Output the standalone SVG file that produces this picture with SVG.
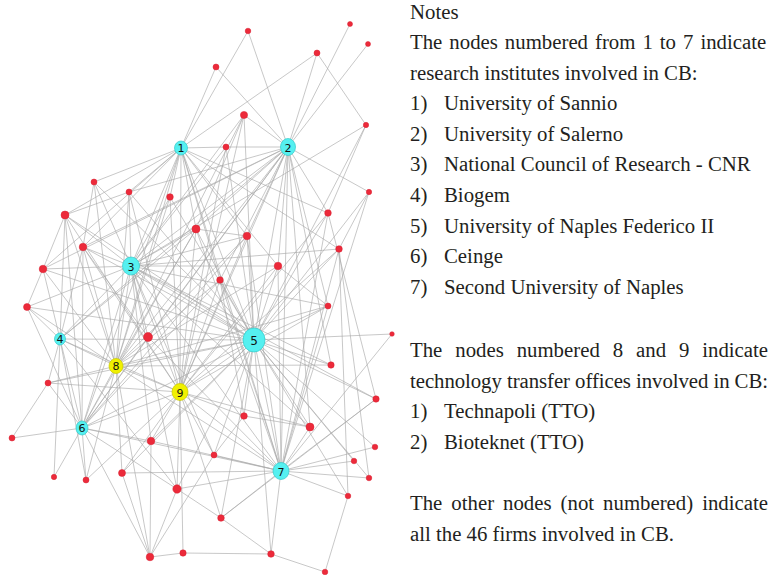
<svg xmlns="http://www.w3.org/2000/svg" width="779" height="575" viewBox="0 0 779 575">
<style>
.e line{stroke:#a9a9a9;stroke-width:0.75;stroke-opacity:0.85}
.f{fill:#ec2a3a;stroke:#d81f30;stroke-width:0.5}
.r{fill:#55f0f0;stroke:#34caca;stroke-width:0.7}
.t{fill:#f0f000;stroke:#c8c800;stroke-width:0.7}
.lb{font-family:"DejaVu Sans","Liberation Sans",sans-serif;font-size:11px;fill:#111;text-anchor:middle}
.tx{font-family:"Liberation Serif","Times New Roman",serif;font-size:20.8px;fill:#231f20}
</style>
<rect width="779" height="575" fill="#fff"/>
<g id="connectors" class="e">
<line x1="181" y1="148" x2="248" y2="31"/><line x1="181" y1="148" x2="216" y2="67"/><line x1="181" y1="148" x2="317" y2="53"/><line x1="181" y1="148" x2="226" y2="147"/><line x1="181" y1="148" x2="94" y2="182"/><line x1="181" y1="148" x2="129" y2="192"/><line x1="181" y1="148" x2="170" y2="197"/><line x1="181" y1="148" x2="65" y2="215"/><line x1="181" y1="148" x2="83" y2="247"/><line x1="181" y1="148" x2="131" y2="266"/><line x1="181" y1="148" x2="254" y2="340"/><line x1="181" y1="148" x2="116" y2="366"/><line x1="181" y1="148" x2="180" y2="392"/><line x1="181" y1="148" x2="328" y2="213"/><line x1="181" y1="148" x2="196" y2="229"/><line x1="181" y1="148" x2="278" y2="266"/><line x1="181" y1="148" x2="220" y2="280"/><line x1="181" y1="148" x2="247" y2="236"/><line x1="181" y1="148" x2="82" y2="428"/><line x1="181" y1="148" x2="339" y2="249"/><line x1="181" y1="148" x2="281" y2="471"/><line x1="181" y1="148" x2="43" y2="269"/>
<line x1="288" y1="147" x2="248" y2="31"/><line x1="288" y1="147" x2="350" y2="24"/><line x1="288" y1="147" x2="368" y2="44"/><line x1="288" y1="147" x2="317" y2="53"/><line x1="288" y1="147" x2="216" y2="67"/><line x1="288" y1="147" x2="244" y2="115"/><line x1="288" y1="147" x2="226" y2="147"/><line x1="288" y1="147" x2="369" y2="192"/><line x1="288" y1="147" x2="131" y2="266"/><line x1="288" y1="147" x2="254" y2="340"/><line x1="288" y1="147" x2="180" y2="392"/><line x1="288" y1="147" x2="116" y2="366"/><line x1="288" y1="147" x2="60" y2="339"/><line x1="288" y1="147" x2="196" y2="229"/><line x1="288" y1="147" x2="247" y2="236"/><line x1="288" y1="147" x2="220" y2="280"/><line x1="288" y1="147" x2="43" y2="269"/><line x1="288" y1="147" x2="83" y2="247"/><line x1="288" y1="147" x2="278" y2="266"/><line x1="288" y1="147" x2="328" y2="213"/><line x1="288" y1="147" x2="281" y2="471"/><line x1="288" y1="147" x2="129" y2="192"/><line x1="288" y1="147" x2="328" y2="306"/><line x1="288" y1="147" x2="82" y2="428"/><line x1="288" y1="147" x2="331" y2="365"/><line x1="288" y1="147" x2="310" y2="427"/><line x1="288" y1="147" x2="148" y2="337"/>
<line x1="131" y1="266" x2="94" y2="182"/><line x1="131" y1="266" x2="129" y2="192"/><line x1="131" y1="266" x2="170" y2="197"/><line x1="131" y1="266" x2="65" y2="215"/><line x1="131" y1="266" x2="83" y2="247"/><line x1="131" y1="266" x2="43" y2="269"/><line x1="131" y1="266" x2="27" y2="307"/><line x1="131" y1="266" x2="244" y2="115"/><line x1="131" y1="266" x2="226" y2="147"/><line x1="131" y1="266" x2="60" y2="339"/><line x1="131" y1="266" x2="254" y2="340"/><line x1="131" y1="266" x2="116" y2="366"/><line x1="131" y1="266" x2="180" y2="392"/><line x1="131" y1="266" x2="82" y2="428"/><line x1="131" y1="266" x2="281" y2="471"/><line x1="131" y1="266" x2="196" y2="229"/><line x1="131" y1="266" x2="148" y2="337"/><line x1="131" y1="266" x2="247" y2="236"/><line x1="131" y1="266" x2="339" y2="249"/><line x1="131" y1="266" x2="278" y2="266"/><line x1="131" y1="266" x2="328" y2="306"/><line x1="131" y1="266" x2="331" y2="365"/><line x1="131" y1="266" x2="151" y2="441"/><line x1="131" y1="266" x2="310" y2="427"/><line x1="131" y1="266" x2="177" y2="489"/><line x1="131" y1="266" x2="376" y2="399"/><line x1="131" y1="266" x2="214" y2="455"/><line x1="131" y1="266" x2="366" y2="125"/>
<line x1="60" y1="339" x2="43" y2="269"/><line x1="60" y1="339" x2="27" y2="307"/><line x1="60" y1="339" x2="65" y2="215"/><line x1="60" y1="339" x2="83" y2="247"/><line x1="60" y1="339" x2="48" y2="383"/><line x1="60" y1="339" x2="254" y2="340"/><line x1="60" y1="339" x2="82" y2="428"/><line x1="60" y1="339" x2="116" y2="366"/><line x1="60" y1="339" x2="54" y2="477"/><line x1="60" y1="339" x2="86" y2="480"/><line x1="60" y1="339" x2="177" y2="489"/><line x1="60" y1="339" x2="196" y2="229"/><line x1="60" y1="339" x2="180" y2="392"/>
<line x1="254" y1="340" x2="129" y2="192"/><line x1="254" y1="340" x2="170" y2="197"/><line x1="254" y1="340" x2="65" y2="215"/><line x1="254" y1="340" x2="83" y2="247"/><line x1="254" y1="340" x2="43" y2="269"/><line x1="254" y1="340" x2="27" y2="307"/><line x1="254" y1="340" x2="328" y2="213"/><line x1="254" y1="340" x2="247" y2="236"/><line x1="254" y1="340" x2="339" y2="249"/><line x1="254" y1="340" x2="278" y2="266"/><line x1="254" y1="340" x2="220" y2="280"/><line x1="254" y1="340" x2="328" y2="306"/><line x1="254" y1="340" x2="392" y2="334"/><line x1="254" y1="340" x2="331" y2="365"/><line x1="254" y1="340" x2="366" y2="125"/><line x1="254" y1="340" x2="369" y2="192"/><line x1="254" y1="340" x2="376" y2="399"/><line x1="254" y1="340" x2="244" y2="416"/><line x1="254" y1="340" x2="310" y2="427"/><line x1="254" y1="340" x2="375" y2="447"/><line x1="254" y1="340" x2="214" y2="455"/><line x1="254" y1="340" x2="354" y2="461"/><line x1="254" y1="340" x2="369" y2="478"/><line x1="254" y1="340" x2="221" y2="518"/><line x1="254" y1="340" x2="271" y2="554"/><line x1="254" y1="340" x2="82" y2="428"/><line x1="254" y1="340" x2="281" y2="471"/><line x1="254" y1="340" x2="116" y2="366"/><line x1="254" y1="340" x2="180" y2="392"/><line x1="254" y1="340" x2="48" y2="383"/><line x1="254" y1="340" x2="151" y2="441"/><line x1="254" y1="340" x2="122" y2="473"/><line x1="254" y1="340" x2="196" y2="229"/><line x1="254" y1="340" x2="244" y2="115"/><line x1="254" y1="340" x2="226" y2="147"/><line x1="254" y1="340" x2="177" y2="489"/><line x1="254" y1="340" x2="348" y2="496"/><line x1="254" y1="340" x2="94" y2="182"/>
<line x1="82" y1="428" x2="12" y2="438"/><line x1="82" y1="428" x2="54" y2="477"/><line x1="82" y1="428" x2="86" y2="480"/><line x1="82" y1="428" x2="177" y2="489"/><line x1="82" y1="428" x2="48" y2="383"/><line x1="82" y1="428" x2="116" y2="366"/><line x1="82" y1="428" x2="180" y2="392"/><line x1="82" y1="428" x2="281" y2="471"/><line x1="82" y1="428" x2="151" y2="441"/><line x1="82" y1="428" x2="65" y2="215"/><line x1="82" y1="428" x2="83" y2="247"/><line x1="82" y1="428" x2="150" y2="557"/><line x1="82" y1="428" x2="27" y2="307"/><line x1="82" y1="428" x2="220" y2="280"/><line x1="82" y1="428" x2="196" y2="229"/><line x1="82" y1="428" x2="247" y2="236"/><line x1="82" y1="428" x2="148" y2="337"/>
<line x1="281" y1="471" x2="122" y2="473"/><line x1="281" y1="471" x2="151" y2="441"/><line x1="281" y1="471" x2="177" y2="489"/><line x1="281" y1="471" x2="376" y2="399"/><line x1="281" y1="471" x2="310" y2="427"/><line x1="281" y1="471" x2="375" y2="447"/><line x1="281" y1="471" x2="214" y2="455"/><line x1="281" y1="471" x2="354" y2="461"/><line x1="281" y1="471" x2="369" y2="478"/><line x1="281" y1="471" x2="348" y2="496"/><line x1="281" y1="471" x2="221" y2="518"/><line x1="281" y1="471" x2="271" y2="554"/><line x1="281" y1="471" x2="339" y2="249"/><line x1="281" y1="471" x2="369" y2="192"/><line x1="281" y1="471" x2="328" y2="213"/><line x1="281" y1="471" x2="328" y2="306"/><line x1="281" y1="471" x2="180" y2="392"/><line x1="281" y1="471" x2="116" y2="366"/><line x1="281" y1="471" x2="196" y2="229"/><line x1="281" y1="471" x2="247" y2="236"/><line x1="281" y1="471" x2="220" y2="280"/><line x1="281" y1="471" x2="148" y2="337"/><line x1="281" y1="471" x2="278" y2="266"/><line x1="281" y1="471" x2="392" y2="334"/>
<line x1="116" y1="366" x2="48" y2="383"/><line x1="116" y1="366" x2="331" y2="365"/><line x1="116" y1="366" x2="43" y2="269"/><line x1="116" y1="366" x2="27" y2="307"/><line x1="116" y1="366" x2="65" y2="215"/><line x1="116" y1="366" x2="83" y2="247"/><line x1="116" y1="366" x2="94" y2="182"/><line x1="116" y1="366" x2="129" y2="192"/><line x1="116" y1="366" x2="170" y2="197"/><line x1="116" y1="366" x2="196" y2="229"/><line x1="116" y1="366" x2="220" y2="280"/><line x1="116" y1="366" x2="247" y2="236"/><line x1="116" y1="366" x2="278" y2="266"/><line x1="116" y1="366" x2="86" y2="480"/><line x1="116" y1="366" x2="122" y2="473"/><line x1="116" y1="366" x2="180" y2="392"/><line x1="116" y1="366" x2="150" y2="557"/><line x1="116" y1="366" x2="328" y2="306"/><line x1="116" y1="366" x2="244" y2="115"/>
<line x1="180" y1="392" x2="151" y2="441"/><line x1="180" y1="392" x2="177" y2="489"/><line x1="180" y1="392" x2="183" y2="553"/><line x1="180" y1="392" x2="86" y2="480"/><line x1="180" y1="392" x2="122" y2="473"/><line x1="180" y1="392" x2="244" y2="115"/><line x1="180" y1="392" x2="226" y2="147"/><line x1="180" y1="392" x2="196" y2="229"/><line x1="180" y1="392" x2="247" y2="236"/><line x1="180" y1="392" x2="278" y2="266"/><line x1="180" y1="392" x2="220" y2="280"/><line x1="180" y1="392" x2="339" y2="249"/><line x1="180" y1="392" x2="328" y2="213"/><line x1="180" y1="392" x2="244" y2="416"/><line x1="180" y1="392" x2="214" y2="455"/><line x1="180" y1="392" x2="221" y2="518"/><line x1="180" y1="392" x2="83" y2="247"/><line x1="180" y1="392" x2="129" y2="192"/><line x1="180" y1="392" x2="170" y2="197"/><line x1="180" y1="392" x2="48" y2="383"/><line x1="180" y1="392" x2="310" y2="427"/><line x1="180" y1="392" x2="328" y2="306"/><line x1="180" y1="392" x2="65" y2="215"/>
<line x1="65" y1="215" x2="43" y2="269"/><line x1="43" y1="269" x2="27" y2="307"/><line x1="65" y1="215" x2="129" y2="192"/><line x1="94" y1="182" x2="83" y2="247"/><line x1="12" y1="438" x2="48" y2="383"/><line x1="122" y1="473" x2="150" y2="557"/><line x1="150" y1="557" x2="183" y2="553"/><line x1="183" y1="553" x2="271" y2="554"/><line x1="221" y1="518" x2="271" y2="554"/><line x1="271" y1="554" x2="325" y2="572"/><line x1="348" y1="496" x2="325" y2="572"/><line x1="244" y1="416" x2="310" y2="427"/><line x1="278" y1="266" x2="328" y2="306"/><line x1="196" y1="229" x2="247" y2="236"/><line x1="317" y1="53" x2="366" y2="125"/><line x1="366" y1="125" x2="328" y2="213"/><line x1="328" y1="213" x2="376" y2="399"/><line x1="339" y1="249" x2="348" y2="496"/><line x1="376" y1="399" x2="221" y2="518"/><line x1="151" y1="441" x2="150" y2="557"/><line x1="177" y1="489" x2="221" y2="518"/><line x1="214" y1="455" x2="150" y2="557"/><line x1="244" y1="115" x2="196" y2="229"/><line x1="83" y1="247" x2="148" y2="337"/><line x1="244" y1="416" x2="214" y2="455"/><line x1="339" y1="249" x2="369" y2="478"/><line x1="369" y1="192" x2="339" y2="249"/><line x1="220" y1="280" x2="244" y2="416"/><line x1="177" y1="489" x2="150" y2="557"/>
</g>
<g id="f1"><circle class="f" cx="94" cy="182" r="3"/></g>
<g id="f2"><circle class="f" cx="129" cy="192" r="3"/></g>
<g id="f3"><circle class="f" cx="170" cy="197" r="3.3"/></g>
<g id="f4"><circle class="f" cx="248" cy="31" r="2.8"/></g>
<g id="f5"><circle class="f" cx="350" cy="24" r="2.5"/></g>
<g id="f6"><circle class="f" cx="368" cy="44" r="2.5"/></g>
<g id="f7"><circle class="f" cx="317" cy="53" r="3"/></g>
<g id="f8"><circle class="f" cx="216" cy="67" r="3"/></g>
<g id="f9"><circle class="f" cx="244" cy="115" r="3.6"/></g>
<g id="f10"><circle class="f" cx="226" cy="147" r="3"/></g>
<g id="f11"><circle class="f" cx="366" cy="125" r="2.7"/></g>
<g id="f12"><circle class="f" cx="369" cy="192" r="2.7"/></g>
<g id="f13"><circle class="f" cx="65" cy="215" r="4"/></g>
<g id="f14"><circle class="f" cx="196" cy="229" r="4"/></g>
<g id="f15"><circle class="f" cx="83" cy="247" r="3.8"/></g>
<g id="f16"><circle class="f" cx="43" cy="269" r="3.8"/></g>
<g id="f17"><circle class="f" cx="27" cy="307" r="3.5"/></g>
<g id="f18"><circle class="f" cx="148" cy="337" r="4.5"/></g>
<g id="f19"><circle class="f" cx="48" cy="383" r="3"/></g>
<g id="f20"><circle class="f" cx="328" cy="213" r="3.3"/></g>
<g id="f21"><circle class="f" cx="247" cy="236" r="3.8"/></g>
<g id="f22"><circle class="f" cx="339" cy="249" r="3.3"/></g>
<g id="f23"><circle class="f" cx="278" cy="266" r="3.8"/></g>
<g id="f24"><circle class="f" cx="220" cy="280" r="3.3"/></g>
<g id="f25"><circle class="f" cx="328" cy="306" r="3"/></g>
<g id="f26"><circle class="f" cx="392" cy="334" r="2.3"/></g>
<g id="f27"><circle class="f" cx="331" cy="365" r="3.2"/></g>
<g id="f28"><circle class="f" cx="12" cy="438" r="3"/></g>
<g id="f29"><circle class="f" cx="151" cy="441" r="3.8"/></g>
<g id="f30"><circle class="f" cx="122" cy="473" r="3.5"/></g>
<g id="f31"><circle class="f" cx="54" cy="477" r="2.7"/></g>
<g id="f32"><circle class="f" cx="86" cy="480" r="3"/></g>
<g id="f33"><circle class="f" cx="177" cy="489" r="4.2"/></g>
<g id="f34"><circle class="f" cx="150" cy="557" r="3.8"/></g>
<g id="f35"><circle class="f" cx="183" cy="553" r="3.2"/></g>
<g id="f36"><circle class="f" cx="376" cy="399" r="3.2"/></g>
<g id="f37"><circle class="f" cx="244" cy="416" r="3.3"/></g>
<g id="f38"><circle class="f" cx="310" cy="427" r="4"/></g>
<g id="f39"><circle class="f" cx="375" cy="447" r="2.8"/></g>
<g id="f40"><circle class="f" cx="214" cy="455" r="3"/></g>
<g id="f41"><circle class="f" cx="354" cy="461" r="2.8"/></g>
<g id="f42"><circle class="f" cx="369" cy="478" r="2.8"/></g>
<g id="f43"><circle class="f" cx="348" cy="496" r="2.8"/></g>
<g id="f44"><circle class="f" cx="221" cy="518" r="3.3"/></g>
<g id="f45"><circle class="f" cx="271" cy="554" r="3.3"/></g>
<g id="f46"><circle class="f" cx="325" cy="572" r="2.8"/></g>
<g id="n1"><ellipse class="r" cx="181" cy="148" rx="6.5" ry="7"/><text class="lb" x="181" y="152">1</text></g>
<g id="n2"><ellipse class="r" cx="288" cy="147" rx="7.5" ry="8.5"/><text class="lb" x="288" y="151.5">2</text></g>
<g id="n3"><ellipse class="r" cx="131" cy="266" rx="8.5" ry="9"/><text class="lb" x="131" y="270.5">3</text></g>
<g id="n4"><ellipse class="r" cx="60" cy="339" rx="5.5" ry="6"/><text class="lb" x="60" y="343">4</text></g>
<g id="n5"><ellipse class="r" cx="254" cy="340" rx="11" ry="12"/><text class="lb" x="254" y="344.5" style="font-size:12px">5</text></g>
<g id="n6"><ellipse class="r" cx="82" cy="428" rx="6" ry="7"/><text class="lb" x="82" y="432">6</text></g>
<g id="n7"><ellipse class="r" cx="281" cy="471" rx="8" ry="8.5"/><text class="lb" x="281" y="475.5">7</text></g>
<g id="n8"><ellipse class="t" cx="116" cy="366" rx="7" ry="7.5"/><text class="lb" x="116" y="370">8</text></g>
<g id="n9"><ellipse class="t" cx="180" cy="392" rx="8" ry="8.5"/><text class="lb" x="180" y="396.5">9</text></g>
<g id="notes" class="tx">
<text x="410" y="19">Notes</text>
<text x="410" y="49" word-spacing="1.8">The nodes numbered from 1 to 7 indicate</text>
<text x="410" y="79.5">research institutes involved in CB:</text>
<text x="410" y="110">1)</text><text x="444" y="110">University of Sannio</text>
<text x="410" y="140.5">2)</text><text x="444" y="140.5">University of Salerno</text>
<text x="410" y="171">3)</text><text x="444" y="171">National Council of Research - CNR</text>
<text x="410" y="201.5">4)</text><text x="444" y="201.5">Biogem</text>
<text x="410" y="232.5">5)</text><text x="444" y="232.5">University of Naples Federico II</text>
<text x="410" y="263">6)</text><text x="444" y="263">Ceinge</text>
<text x="410" y="294">7)</text><text x="444" y="294">Second University of Naples</text>
<text x="410" y="357" word-spacing="7.7">The nodes numbered 8 and 9 indicate</text>
<text x="410" y="387.5" textLength="358" lengthAdjust="spacing">technology transfer offices involved in CB:</text>
<text x="410" y="418">1)</text><text x="444" y="418">Technapoli (TTO)</text>
<text x="410" y="448.5">2)</text><text x="444" y="448.5">Bioteknet (TTO)</text>
<text x="410" y="510" word-spacing="3.8">The other nodes (not numbered) indicate</text>
<text x="410" y="540.5">all the 46 firms involved in CB.</text>
</g>
</svg>
